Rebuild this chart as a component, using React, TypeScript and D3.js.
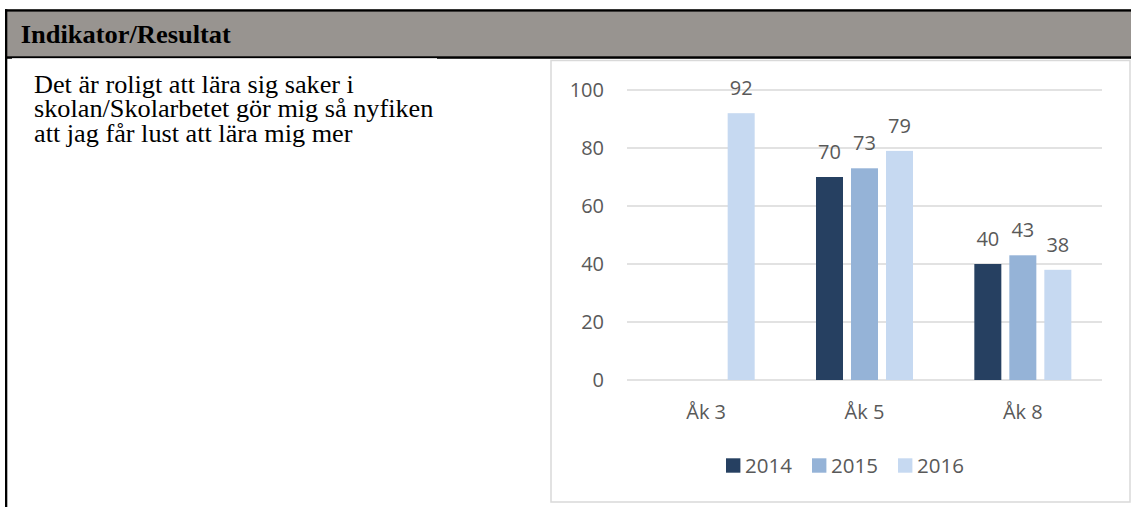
import { useEffect, useRef } from 'react';
import * as d3 from 'd3';

const categories = ['Åk 3', 'Åk 5', 'Åk 8'];
const years = ['2014', '2015', '2016'];
const values2014: (number | null)[] = [null, 70, 40];
const values2015: (number | null)[] = [null, 73, 43];
const values2016: (number | null)[] = [92, 79, 38];
const yTicks = [0, 20, 40, 60, 80, 100];

const headerTitle = 'Indikator/Resultat';
const indicatorLines = [
  'Det är roligt att lära sig saker i',
  'skolan/Skolarbetet gör mig så nyfiken',
  'att jag får lust att lära mig mer',
];

const seriesColors = ['#264061', '#95B3D7', '#C6D9F1'];
const WIDTH = 1131;
const HEIGHT = 507;
const chartFont = '"Open Sans", "Noto Sans", sans-serif';
const serifFont = '"Liberation Serif", "Times New Roman", serif';
const textColor = '#595959';

export default function App() {
  const svgRef = useRef<SVGSVGElement>(null);

  useEffect(() => {
    if (!svgRef.current) return;
    const svg = d3.select(svgRef.current);
    svg.selectAll('*').remove();
    svg.attr('width', WIDTH).attr('height', HEIGHT);

    // table header row + left border
    svg.append('rect')
      .attr('x', 5).attr('y', 9.3).attr('width', WIDTH - 5).attr('height', 49.4)
      .attr('fill', '#989490');
    svg.append('rect')
      .attr('x', 5).attr('y', 9.3).attr('width', WIDTH - 5).attr('height', 2.3)
      .attr('fill', '#000');
    svg.append('rect')
      .attr('x', 5).attr('y', 56.3).attr('width', WIDTH - 5).attr('height', 2.4)
      .attr('fill', '#000');
    svg.append('rect')
      .attr('x', 12).attr('y', 58).attr('width', 425).attr('height', 0.8)
      .attr('fill', '#fff');
    svg.append('rect')
      .attr('x', 5).attr('y', 9.3).attr('width', 2.3).attr('height', HEIGHT - 9.3)
      .attr('fill', '#000');

    svg.append('text')
      .attr('transform', 'translate(20.7,43.3) scale(1.08,1)')
      .attr('font-family', serifFont)
      .attr('font-weight', 'bold')
      .attr('font-size', 24.5)
      .attr('fill', '#000')
      .text(headerTitle);

    const body = svg.append('text')
      .attr('transform', 'translate(34,92.7) scale(1.05,1)')
      .attr('font-family', serifFont)
      .attr('font-size', 25)
      .attr('fill', '#000');
    indicatorLines.forEach((line, i) => {
      body.append('tspan').attr('x', 0).attr('y', i * 24.5).text(line);
    });

    // chart area frame
    svg.append('rect')
      .attr('x', 551).attr('y', 60.5).attr('width', 579).attr('height', 441.5)
      .attr('fill', '#fff')
      .attr('stroke', '#d9d9d9')
      .attr('stroke-width', 1.5);

    const x0 = d3.scaleBand<string>().domain(categories).range([627, 1102]);
    const x1 = d3.scaleBand<string>()
      .domain(years)
      .range([0, x0.bandwidth()])
      .paddingInner(0.2286)
      .paddingOuter(0.876);
    const y = d3.scaleLinear().domain([0, 100]).range([380, 90]);

    svg.append('g')
      .selectAll('line')
      .data(yTicks)
      .join('line')
      .attr('x1', 627).attr('x2', 1102)
      .attr('y1', (d) => y(d)).attr('y2', (d) => y(d))
      .attr('stroke', '#d9d9d9')
      .attr('stroke-width', 1.4);

    svg.append('g')
      .selectAll('text')
      .data(yTicks)
      .join('text')
      .attr('x', 604)
      .attr('y', (d) => y(d) + 7.2)
      .attr('text-anchor', 'end')
      .attr('font-family', chartFont)
      .attr('font-size', 20)
      .attr('fill', textColor)
      .text((d) => d);

    const seriesValues = [values2014, values2015, values2016];
    const bars = categories.flatMap((cat, ci) =>
      years.map((yr, si) => ({ cat, yr, si, value: seriesValues[si][ci] }))
    ).filter((d) => d.value !== null) as { cat: string; yr: string; si: number; value: number }[];

    const barG = svg.append('g');
    barG.selectAll('rect')
      .data(bars)
      .join('rect')
      .attr('x', (d) => (x0(d.cat) ?? 0) + (x1(d.yr) ?? 0))
      .attr('y', (d) => y(d.value))
      .attr('width', x1.bandwidth())
      .attr('height', (d) => y(0) - y(d.value))
      .attr('fill', (d) => seriesColors[d.si]);

    barG.selectAll('text')
      .data(bars)
      .join('text')
      .attr('x', (d) => (x0(d.cat) ?? 0) + (x1(d.yr) ?? 0) + x1.bandwidth() / 2)
      .attr('y', (d) => y(d.value) - 18)
      .attr('text-anchor', 'middle')
      .attr('font-family', chartFont)
      .attr('font-size', 20)
      .attr('fill', textColor)
      .text((d) => d.value);

    svg.append('g')
      .selectAll('text')
      .data(categories)
      .join('text')
      .attr('x', (d) => (x0(d) ?? 0) + x0.bandwidth() / 2)
      .attr('y', 419)
      .attr('text-anchor', 'middle')
      .attr('font-family', chartFont)
      .attr('font-size', 20)
      .attr('fill', textColor)
      .text((d) => d);

    const legendX = d3.scalePoint<string>().domain(years).range([726, 898]);
    const legend = svg.append('g');
    years.forEach((yr, i) => {
      const item = legend.append('g').attr('transform', `translate(${legendX(yr)},458.3)`);
      item.append('rect')
        .attr('width', 14.4).attr('height', 14.4)
        .attr('fill', seriesColors[i]);
      item.append('text')
        .attr('x', 19)
        .attr('y', 14.5)
        .attr('font-family', chartFont)
        .attr('font-size', 20.5)
        .attr('fill', textColor)
        .text(yr);
    });
  }, []);

  return (
    <div style={{ position: 'absolute', left: 0, top: 0, width: WIDTH, height: HEIGHT, background: '#fff' }}>
      <svg ref={svgRef} style={{ display: 'block' }} />
    </div>
  );
}
